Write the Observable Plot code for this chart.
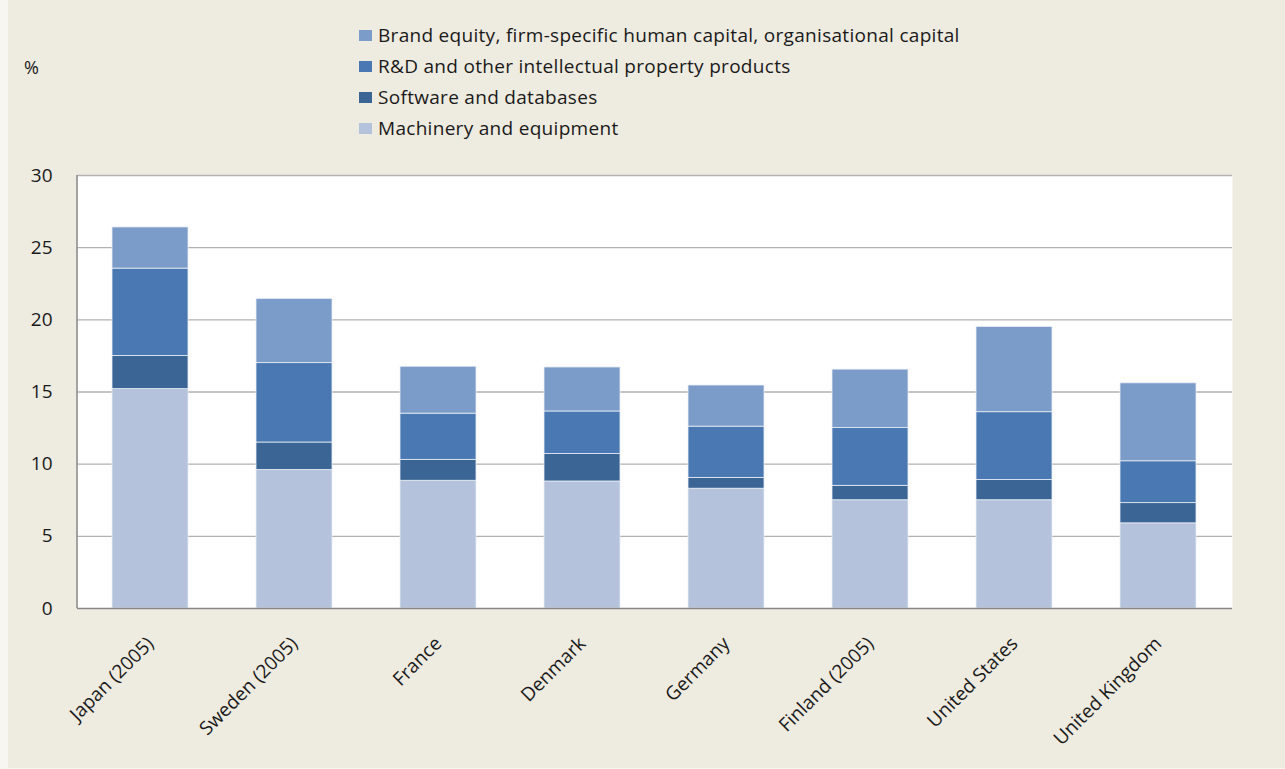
<!DOCTYPE html>
<html>
<head>
<meta charset="utf-8">
<script src="https://cdn.jsdelivr.net/npm/d3@7"></script>
<script src="https://cdn.jsdelivr.net/npm/@observablehq/plot@0.6"></script>
<style>
  html, body { margin: 0; padding: 0; background: #f7f6f1; }
  body { width: 1285px; height: 769px; overflow: hidden; font-family: "Open Sans", sans-serif; color: #1a1a1a; }
  #page { position: absolute; left: 8px; top: 0; width: 1277px; height: 768px; background: #eeebe0; }
  #topbox { position: absolute; left: 0; top: 0; width: 1285px; height: 150px; }
  .leg { position: absolute; left: 359px; font-size: 19px; letter-spacing: 0.3px; line-height: 20px; display: flex; align-items: center; }
  .sw { width: 13px; height: 11px; margin-right: 6px; display: inline-block; }
  #pct { position: absolute; left: 24px; top: 55px; font-size: 18px; }
  #chart { position: absolute; left: 0; top: 150px; }
  #chart svg { display: block; }
</style>
</head>
<body>
<div id="page"></div>
<div id="topbox"><div id="pct">%</div></div>
<div id="chart"></div>
<script>
const countries = ["Japan (2005)", "Sweden (2005)", "France", "Denmark", "Germany", "Finland (2005)", "United States", "United Kingdom"];
const seriesNames = [
  "Machinery and equipment",
  "Software and databases",
  "R&D and other intellectual property products",
  "Brand equity, firm-specific human capital, organisational capital"
];
const machinery = [15.2, 9.6, 8.85, 8.8, 8.3, 7.5, 7.5, 5.9];
const software  = [2.3, 1.9, 1.45, 1.9, 0.75, 1.0, 1.4, 1.4];
const rnd       = [6.05, 5.5, 3.2, 2.95, 3.55, 4.0, 4.7, 2.9];
const brand     = [2.85, 4.45, 3.25, 3.05, 2.85, 4.05, 5.9, 5.4];
const colors = ["#b4c2dc", "#3a6594", "#4a78b2", "#7b9bc9"];
const yTicks = [0, 5, 10, 15, 20, 25, 30];

const seriesValues = [machinery, software, rnd, brand];
const data = [];
seriesValues.forEach((vals, s) => {
  vals.forEach((v, i) => data.push({country: countries[i], series: seriesNames[s], value: v}));
});

// legend (top to bottom: brand, R&D, software, machinery)
const topBox = document.getElementById("topbox");
const legendOrder = [3, 2, 1, 0];
legendOrder.forEach((s, k) => {
  const d = document.createElement("div");
  d.className = "leg";
  d.style.top = (25 + k * 31) + "px";
  const sw = document.createElement("span");
  sw.className = "sw";
  sw.style.background = colors[s];
  const t = document.createElement("span");
  t.textContent = seriesNames[s];
  d.appendChild(sw); d.appendChild(t);
  topBox.appendChild(d);
});

const mL = 77, mT = 25, mB = 161, H = 619;
const chart = Plot.plot({
  width: 1285,
  height: H,
  marginLeft: mL,
  marginRight: 53,
  marginTop: mT,
  marginBottom: mB,
  style: {background: "transparent", fontFamily: "'Open Sans', sans-serif", fontSize: "18px", color: "#1a1a1a"},
  x: {domain: countries, paddingInner: 0.47, paddingOuter: 0.235, label: null},
  y: {domain: [0, 30], ticks: yTicks, label: null},
  color: {domain: seriesNames, range: colors},
  marks: [
    Plot.frame({fill: "white", stroke: null}),
    Plot.ruleY(yTicks.filter(d => d > 0), {stroke: "#b3b3b3", strokeWidth: 1.3}),
    Plot.barY(data, Plot.stackY({order: seriesNames}, {
      x: "country", y: "value", fill: "series",
      stroke: "#e8edf5", strokeWidth: 0.8
    })),
    Plot.ruleY([0], {stroke: "#888", strokeWidth: 1.5}),
    Plot.axisY({ticks: yTicks, tickSize: 0, tickPadding: 25, label: null, fontSize: 19}),
    Plot.axisX({tickSize: 0, tickRotate: -45, tickPadding: 12, dy: 20, dx: 0, label: null, fontSize: 19})
  ]
});
document.getElementById("chart").appendChild(chart);
// left axis line at plot's left edge
d3.select(chart).append("line")
  .attr("x1", mL).attr("x2", mL).attr("y1", mT).attr("y2", H - mB)
  .attr("stroke", "#888").attr("stroke-width", 1.5);
</script>
</body>
</html>
